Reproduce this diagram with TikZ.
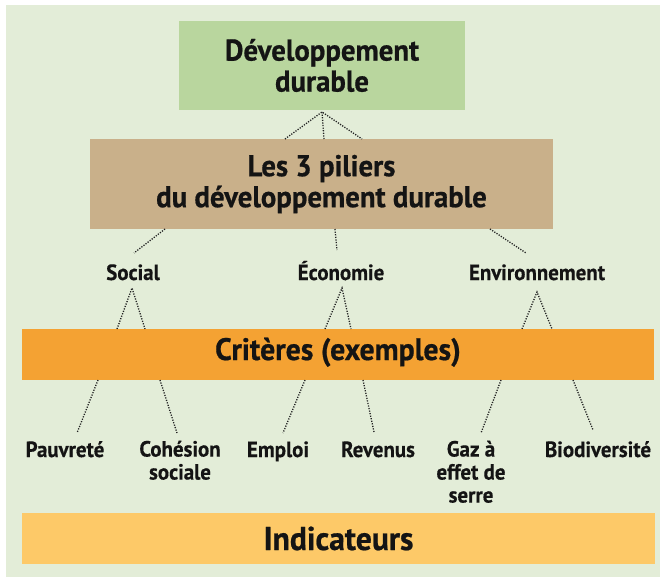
\documentclass[tikz,border=0pt]{standalone}
\usepackage{fontspec}
\newfontfamily\cf[FakeStretch=0.96, BoldFeatures={FakeBold=0.6}]{PT Sans}
\newfontfamily\cs[FakeStretch=0.95, BoldFeatures={FakeBold=0.4}]{PT Sans}
\definecolor{bgc}{HTML}{E3EDD8}
\definecolor{devc}{HTML}{B9D69E}
\definecolor{pilc}{HTML}{C9B08A}
\definecolor{crc}{HTML}{F4A233}
\definecolor{indc}{HTML}{FDC968}
\definecolor{txc}{HTML}{141414}
\definecolor{dotc}{HTML}{222222}
\tikzset{
  box/.style={fill=#1, draw=none, inner sep=0pt, align=center, text=txc},
  big/.style={font=\cf\bfseries\fontsize{30}{31}\selectfont},
  lbl/.style={font=\cs\bfseries\fontsize{22}{23}\selectfont, text=txc, align=center, inner sep=0pt},
  dotline/.style={draw=dotc, line width=1.3pt, dash pattern=on 1.2pt off 1.4pt},
}
\begin{document}
\begin{tikzpicture}[x=1pt,y=-1pt]
\useasboundingbox (0,0) rectangle (660,577);
\fill[white] (0,0) rectangle (660,577);
\fill[bgc] (6,5) rectangle (660,577);
% boxes
\node[box=devc, big, minimum width=286pt, minimum height=89pt] (dev) at (322,65.5) {Développement\\durable};
\node[box=pilc, big, minimum width=463pt, minimum height=90pt] (pil) at (321.5,184) {Les 3 piliers\\du développement durable};
\node[box=crc, font=\cf\bfseries\fontsize{31}{31}\selectfont, minimum width=632pt, minimum height=51pt, text depth=9pt, text height=20pt] (cri) at (338,354.5) {Critères (exemples)};
\node[box=indc, font=\cf\bfseries\fontsize{33}{31}\selectfont, minimum width=633pt, minimum height=51pt] (ind) at (338.5,538.5) {Indicateurs};
% pillar labels
\node[lbl, anchor=base] (soc) at (133,280) {Social};
\node[lbl, anchor=base] (eco) at (341,280) {Économie};
\node[lbl, anchor=base] (env) at (537,280) {Environnement};
% criteria labels
\node[lbl, anchor=base] (pau) at (65,457) {Pauvreté};
\node[lbl, anchor=north] (coh) at (180,440.5) {Cohésion\\sociale};
\node[lbl, anchor=base] (emp) at (278,457) {Emploi};
\node[lbl, anchor=base] (rev) at (378,457) {Revenus};
\node[lbl, anchor=north] (gaz) at (471,440.5) {Gaz à\\effet de\\serre};
\node[lbl, anchor=base] (bio) at (598,457) {Biodiversité};
% coordinates
\coordinate (apx) at (322,112);
\coordinate (p1) at (285,139);
\coordinate (p2) at (324,139);
\coordinate (p3) at (362,139);
\coordinate (q1) at (165,229);
\coordinate (q2) at (335,229);
\coordinate (q3) at (490,229);
\coordinate (s1) at (134,253);
\coordinate (s2) at (337,250);
\coordinate (s3) at (526,253);
\coordinate (sa) at (132,288);
\coordinate (ea) at (342,288);
\coordinate (na) at (537,292);
\coordinate (c1) at (117,329);
\coordinate (c2) at (145,329);
\coordinate (c3) at (325,329);
\coordinate (c4) at (351,329);
\coordinate (c5) at (522,329);
\coordinate (c6) at (552,329);
\coordinate (d1) at (98,380);
\coordinate (d2) at (160,380);
\coordinate (d3) at (305,380);
\coordinate (d4) at (363,380);
\coordinate (d5) at (501,380);
\coordinate (d6) at (573,380);
\coordinate (e1) at (77,433);
\coordinate (e2) at (177,433);
\coordinate (e3) at (283,433);
\coordinate (e4) at (374,432);
\coordinate (e5) at (481,433);
\coordinate (e6) at (593,430);
% connectors
\draw[dotline] (p1) -- (apx) -- (p3);
\draw[dotline] (apx) -- (p2);
\draw[dotline] (q1) -- (s1);
\draw[dotline] (q2) -- (s2);
\draw[dotline] (q3) -- (s3);
\draw[dotline] (c1) -- (sa) -- (c2);
\draw[dotline] (c3) -- (ea) -- (c4);
\draw[dotline] (c5) -- (na) -- (c6);
\draw[dotline] (d1) -- (e1);
\draw[dotline] (d2) -- (e2);
\draw[dotline] (d3) -- (e3);
\draw[dotline] (d4) -- (e4);
\draw[dotline] (d5) -- (e5);
\draw[dotline] (d6) -- (e6);
\end{tikzpicture}
\end{document}
